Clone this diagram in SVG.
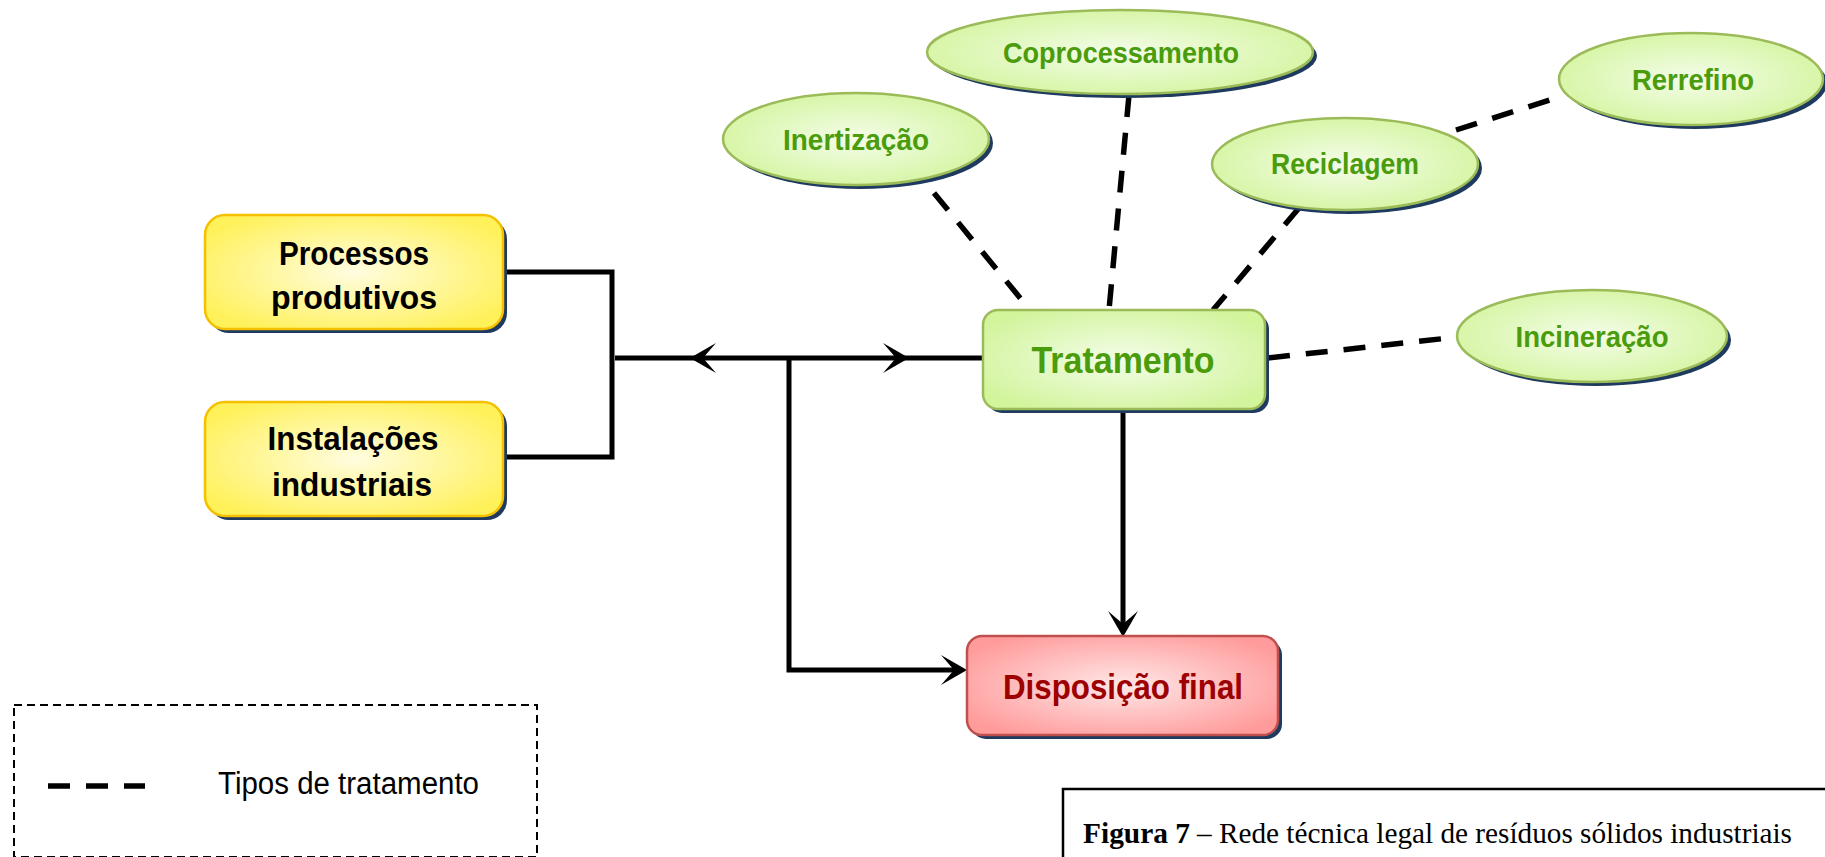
<svg xmlns="http://www.w3.org/2000/svg" xmlns:xlink="http://www.w3.org/1999/xlink" width="1825" height="857" viewBox="0 0 1825 857">
<style>
.sh{fill:#1f3a5f}
.ybox{fill:url(#gy);stroke:#f5c000;stroke-width:2.5}
.gbox{fill:url(#gg);stroke:#9bbb59;stroke-width:2.5}
.rbox{fill:url(#gr);stroke:#c0504d;stroke-width:2.5}
.tb{font-family:"Liberation Sans",Arial,sans-serif;font-weight:bold;text-anchor:middle}
.tk{fill:#000;font-size:33px}
.tg{fill:#4a9c0c;font-size:30px}
.tgl{fill:#4a9c0c;font-size:36px}
.tr{fill:#9c0000;font-size:35px}
.cap{font-family:"Liberation Serif","Times New Roman",serif;font-size:30px;fill:#000}
.solid{fill:none;stroke:#000;stroke-width:5}
.dash{fill:none;stroke:#000;stroke-width:5.5;stroke-dasharray:22 16}
</style>
<defs>
<radialGradient id="gy" cx="50%" cy="50%" r="60%"><stop offset="0" stop-color="#fffde0"/><stop offset="1" stop-color="#fff159"/></radialGradient>
<radialGradient id="gg" cx="50%" cy="50%" r="60%"><stop offset="0" stop-color="#f4fde9"/><stop offset="1" stop-color="#d2f49b"/></radialGradient>
<radialGradient id="gr" cx="50%" cy="50%" r="60%"><stop offset="0" stop-color="#ffe8e8"/><stop offset="1" stop-color="#ff9b9b"/></radialGradient>
<path id="ah" d="M0,0 L-26,-15 L-13,0 L-26,15 Z" fill="#000"/>
</defs>

<g id="connectors">
<path class="solid" d="M503,272 H612 V457 H503"/>
<path class="solid" d="M615,358 H983"/>
<path class="solid" d="M789,358 V670 H962"/>
<path class="solid" d="M1123,410 V630"/>
<use xlink:href="#ah" transform="translate(690,358) rotate(180)"/>
<use xlink:href="#ah" transform="translate(909,358)"/>
<use xlink:href="#ah" transform="translate(967,670)"/>
<use xlink:href="#ah" transform="translate(1123,637) rotate(90)"/>
<path class="dash" d="M934,193 L1030,310"/>
<path class="dash" d="M1129,95 L1109,310"/>
<path class="dash" d="M1299,208 L1213,310"/>
<path class="dash" d="M1456,130 L1559,97"/>
<path class="dash" d="M1268,358 L1458,337"/>
</g>

<g id="processos">
<rect class="sh" x="209" y="219" width="298" height="114" rx="20"/>
<rect class="ybox" x="205" y="215" width="298" height="114" rx="20"/>
<text class="tb tk" x="354" y="265" textLength="150" lengthAdjust="spacingAndGlyphs">Processos</text>
<text class="tb tk" x="354" y="309" textLength="166" lengthAdjust="spacingAndGlyphs">produtivos</text>
</g>

<g id="instalacoes">
<rect class="sh" x="209" y="406" width="298" height="114" rx="20"/>
<rect class="ybox" x="205" y="402" width="298" height="114" rx="20"/>
<text class="tb tk" x="353" y="450" textLength="171" lengthAdjust="spacingAndGlyphs">Instalações</text>
<text class="tb tk" x="352" y="496" textLength="160" lengthAdjust="spacingAndGlyphs">industriais</text>
</g>

<g id="tratamento">
<rect class="sh" x="987" y="314" width="282" height="99" rx="15"/>
<rect class="gbox" x="983" y="310" width="282" height="99" rx="15"/>
<text class="tb tgl" x="1123" y="373" textLength="183" lengthAdjust="spacingAndGlyphs">Tratamento</text>
</g>

<g id="disposicao">
<rect class="sh" x="971" y="640" width="311" height="99" rx="15"/>
<rect class="rbox" x="967" y="636" width="311" height="99" rx="15"/>
<text class="tb tr" x="1123" y="699" textLength="240" lengthAdjust="spacingAndGlyphs">Disposição final</text>
</g>

<g id="coprocessamento">
<ellipse class="sh" cx="1124" cy="56" rx="193" ry="42"/>
<ellipse class="gbox" cx="1120" cy="52" rx="193" ry="42"/>
<text class="tb tg" x="1121" y="63" textLength="236" lengthAdjust="spacingAndGlyphs">Coprocessamento</text>
</g>

<g id="inertizacao">
<ellipse class="sh" cx="860" cy="143" rx="133" ry="46"/>
<ellipse class="gbox" cx="856" cy="139" rx="133" ry="46"/>
<text class="tb tg" x="856" y="150" textLength="146" lengthAdjust="spacingAndGlyphs">Inertização</text>
</g>

<g id="reciclagem">
<ellipse class="sh" cx="1349" cy="168" rx="133" ry="46"/>
<ellipse class="gbox" cx="1345" cy="164" rx="133" ry="46"/>
<text class="tb tg" x="1345" y="174" textLength="148" lengthAdjust="spacingAndGlyphs">Reciclagem</text>
</g>

<g id="rerrefino">
<ellipse class="sh" cx="1695" cy="83" rx="132" ry="46"/>
<ellipse class="gbox" cx="1691" cy="79" rx="132" ry="46"/>
<text class="tb tg" x="1693" y="90" textLength="122" lengthAdjust="spacingAndGlyphs">Rerrefino</text>
</g>

<g id="incineracao">
<ellipse class="sh" cx="1596" cy="340" rx="135" ry="46"/>
<ellipse class="gbox" cx="1592" cy="336" rx="135" ry="46"/>
<text class="tb tg" x="1592" y="347" textLength="153" lengthAdjust="spacingAndGlyphs">Incineração</text>
</g>

<g id="legend">
<rect x="14" y="705" width="523" height="152" fill="none" stroke="#000" stroke-width="2" stroke-dasharray="8 5"/>
<path class="dash" d="M48,786 H145" stroke-dasharray="21 16"/>
<text x="218" y="794" font-family="Liberation Sans, Arial, sans-serif" font-size="31" fill="#000" textLength="261" lengthAdjust="spacingAndGlyphs">Tipos de tratamento</text>
</g>

<g id="caption">
<path d="M1063,900 V789 H1830" fill="none" stroke="#000" stroke-width="2.5"/>
<text class="cap" x="1083" y="843" font-weight="bold" textLength="107" lengthAdjust="spacingAndGlyphs">Figura 7</text>
<text class="cap" x="1197" y="843" textLength="595" lengthAdjust="spacingAndGlyphs">– Rede técnica legal de resíduos sólidos industriais</text>
</g>
</svg>
